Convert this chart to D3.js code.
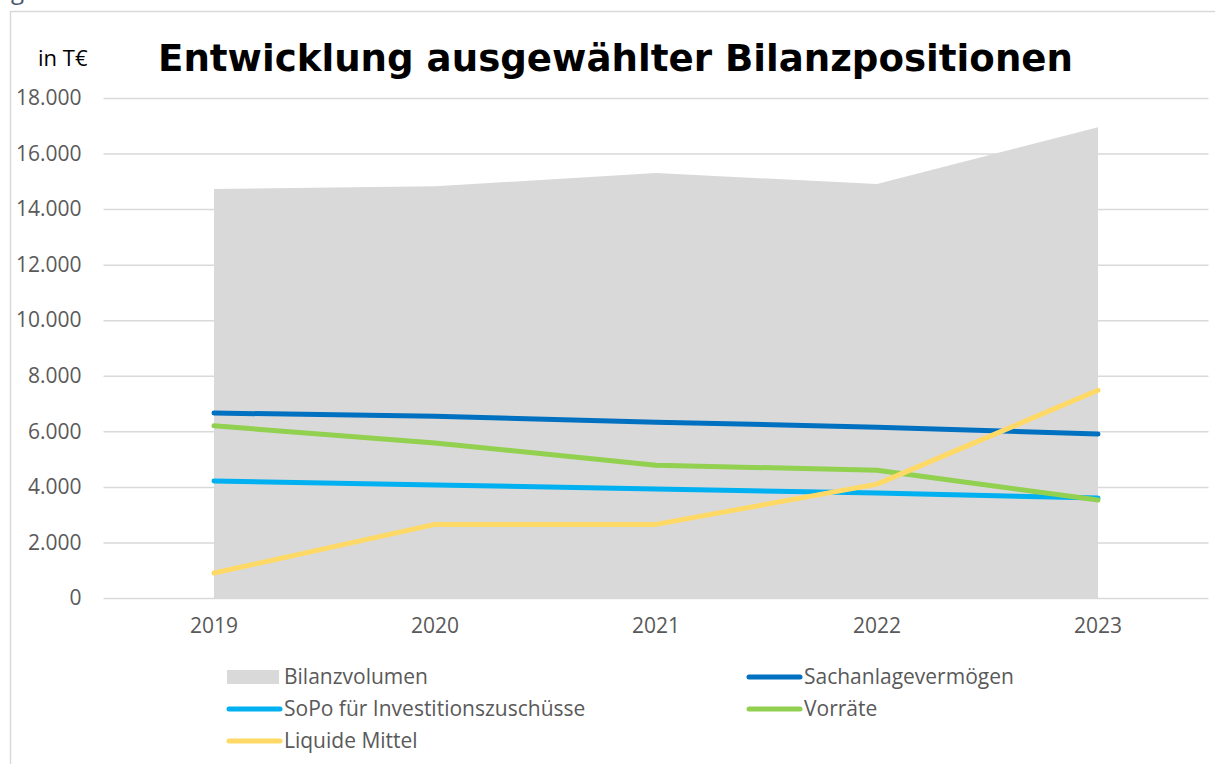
<!DOCTYPE html>
<html><head><meta charset="utf-8">
<script src="https://cdn.jsdelivr.net/npm/d3@7"></script>
<style>html,body{margin:0;padding:0;background:#fff;overflow:hidden}</style>
</head><body>
<svg id="c" width="1215" height="764"></svg>
<script>
const years = ["2019","2020","2021","2022","2023"];
const bilanzvolumen = [14720, 14820, 15300, 14900, 16950];
const sachanlage = [6660, 6540, 6330, 6150, 5900];
const sopo = [4210, 4070, 3920, 3780, 3600];
const vorraete = [6200, 5580, 4780, 4600, 3530];
const liquide = [900, 2650, 2650, 4100, 7480];
const yTicks = [0, 2000, 4000, 6000, 8000, 10000, 12000, 14000, 16000, 18000];
const title = "Entwicklung ausgewählter Bilanzpositionen";
const unitLabel = "in T€";

const svg = d3.select("#c");
const font = "'Open Sans', sans-serif";
const grey = "#595959";

// frame
svg.append("path").attr("d","M10.5,764 L10.5,11.5 L1215,11.5").attr("fill","none").attr("stroke","#d9d9d9").attr("stroke-width",1.5);
svg.append("text").attr("x",11).attr("y",-1).attr("font-family","'Open Sans', sans-serif").attr("font-size",24).attr("fill","#44546a").text("g");

const x = d3.scaleBand().domain(years).range([103.5, 1208.5]);
const xc = d => x(d) + x.bandwidth()/2;
const y = d3.scaleLinear().domain([0, 18000]).range([598, 98]);

// gridlines + y labels
const yAxis = d3.axisLeft(y).tickValues(yTicks).tickSize(-(1208.5-103.5)).tickPadding(22)
  .tickFormat(d => d3.format(",")(d).replace(/,/g, "."));
const ga = svg.append("g").attr("transform","translate(103.5,0)").call(yAxis);
ga.select(".domain").remove();
ga.selectAll(".tick line").attr("stroke","#d9d9d9").attr("stroke-width",1.5);
ga.selectAll(".tick text").attr("font-family",font).attr("font-size",21).attr("fill",grey);

// x labels
const xAxis = d3.axisBottom(x).tickSize(0).tickPadding(20);
const gx = svg.append("g").attr("transform","translate(0,598)").call(xAxis);
gx.select(".domain").remove();
gx.selectAll(".tick text").attr("font-family",font).attr("font-size",21).attr("fill",grey);

// area
const area = d3.area().x((d,i)=>xc(years[i])).y0(y(0)).y1(d=>y(d));
svg.append("path").datum(bilanzvolumen).attr("d",area).attr("fill","#d9d9d9");

const series = [
  {name:"Sachanlagevermögen", vals:sachanlage, color:"#0070c0"},
  {name:"SoPo für Investitionszuschüsse", vals:sopo, color:"#00b0f0"},
  {name:"Vorräte", vals:vorraete, color:"#92d050"},
  {name:"Liquide Mittel", vals:liquide, color:"#ffd966"}
];
const line = d3.line().x((d,i)=>xc(years[i])).y(d=>y(d));
series.forEach(s=>{
  svg.append("path").datum(s.vals).attr("d",line).attr("fill","none")
    .attr("stroke",s.color).attr("stroke-width",5).attr("stroke-linecap","round").attr("stroke-linejoin","round");
});

// title
svg.append("text").attr("x",615.5).attr("y",71).attr("text-anchor","middle")
  .attr("font-family","'DejaVu Sans', Verdana, sans-serif").attr("font-weight","bold").attr("font-size",38)
  .attr("textLength",915).attr("lengthAdjust","spacingAndGlyphs")
  .attr("fill","#000").text(title);
svg.append("text").attr("x",38).attr("y",66).attr("font-family",font).attr("font-size",22).attr("fill","#000").text(unitLabel);

// legend
const legend = [
  {name:"Bilanzvolumen", type:"rect", color:"#d9d9d9", x:227, y:677},
  {name:series[0].name, type:"line", color:series[0].color, x:747, y:677},
  {name:series[1].name, type:"line", color:series[1].color, x:227, y:709},
  {name:series[2].name, type:"line", color:series[2].color, x:747, y:709},
  {name:series[3].name, type:"line", color:series[3].color, x:227, y:741}
];
legend.forEach(l=>{
  if(l.type==="rect"){
    svg.append("rect").attr("x",l.x).attr("y",l.y-7).attr("width",52).attr("height",14).attr("fill",l.color);
  } else {
    svg.append("line").attr("x1",l.x+2).attr("x2",l.x+53).attr("y1",l.y).attr("y2",l.y)
      .attr("stroke",l.color).attr("stroke-width",5).attr("stroke-linecap","round");
  }
  svg.append("text").attr("x",l.x+57).attr("y",l.y).attr("dy","0.35em")
    .attr("font-family",font).attr("font-size",21).attr("fill",grey).text(l.name);
});
</script>
</body></html>
